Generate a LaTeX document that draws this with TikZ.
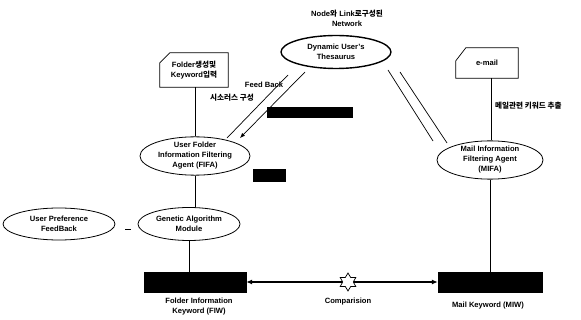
\documentclass[tikz,border=0pt]{standalone}
\usepackage{fontspec}
\setmainfont{Liberation Sans}
\newfontfamily\kr{Noto Sans CJK KR}
\usetikzlibrary{shapes.geometric,arrows.meta,calc}
\begin{document}
\begin{tikzpicture}[x=1pt,y=-1pt,
  font=\fontsize{7.6}{10}\selectfont\bfseries,
  oval/.style={ellipse,draw,line width=0.8pt,inner sep=0pt,align=center},
  docbox/.style={draw=none,inner sep=0pt,align=center},
  bar/.style={fill=black,draw=black,inner sep=0pt},
  lbl/.style={inner sep=0pt,align=center},
  ln/.style={line width=0.7pt},
  arr/.style={line width=0.7pt,-{Latex[length=5pt,width=4pt]}}]
\useasboundingbox (0,0) rectangle (581,320);

% top label
\node[lbl] (toplbl) at (347,18) {Node{\kr 와} Link{\kr 로구성된}\\Network};

% thesaurus
\node[oval,line width=1.4pt,minimum width=110,minimum height=33] (thes) at (336,52) {Dynamic User's\\Thesaurus};

% folder document box
\node[docbox,minimum width=68,minimum height=34] (fbox) at (194,70) {Folder{\kr 생성및}\\Keyword{\kr 입력}};
\draw[ln] ($(fbox.north west)+(0,10)$) -- ($(fbox.north west)+(10,0)$) -- (fbox.north east) -- (fbox.south east) -- (fbox.south west) -- cycle;

% e-mail document box
\node[docbox,minimum width=62,minimum height=30] (mbox) at (487,63) {e-mail};
\draw[ln] ($(mbox.north west)+(0,13)$) -- ($(mbox.north west)+(10,0)$) -- (mbox.north east) -- (mbox.south east) -- (mbox.south west) -- cycle;

% agents
\node[oval,minimum width=110,minimum height=36] (fifa) at (195,156) {User Folder\\Information Filtering\\Agent (FIFA)};
\node[oval,minimum width=106,minimum height=36] (mifa) at (490,160) {Mail Information\\Filtering Agent\\(MIFA)};
\node[oval,minimum width=102,minimum height=33] (ga) at (189,224) {Genetic Algorithm\\Module};
\node[oval,minimum width=112,minimum height=32] (upf) at (59,224) {User Preference\\FeedBack};

% black bars
\node[bar,minimum width=85,minimum height=10] (midbar) at (309.5,112) {};
\node[bar,minimum width=32,minimum height=12] (smallbar) at (269,175) {};
\node[bar,minimum width=102,minimum height=20] (fiw) at (195,282) {};
\node[bar,minimum width=104,minimum height=20] (miw) at (490,282) {};

\node[lbl] (fiwlbl) at (199,306.5) {Folder Information\\Keyword (FIW)};
\node[lbl] (miwlbl) at (488,306) {Mail Keyword (MIW)};

% comparison
\node[star,star points=6,star point ratio=1.7,draw,fill=white,line width=0.7pt,minimum size=18pt,inner sep=0pt] (cmp) at (348,282) {};
\node[lbl] (cmplbl) at (348,302) {Comparision};
\draw[line width=1.3pt,-{Latex[length=6pt,width=5pt]}] (cmp) -- (fiw.east);
\draw[line width=1.3pt,-{Latex[length=6pt,width=5pt]}] (cmp) -- (miw.west);

% vertical connectors
\draw[ln] (fbox.south) ++(1,0) coordinate (fb) -- (fb |- fifa.north);
\draw[ln] (fifa.south) -- (ga.north -| fifa.south);
\draw[ln] (ga.south) -- (ga.south |- fiw.north);
\draw[ln] (mbox.south) ++(4,0) coordinate (mb) -- (mb |- mifa.north);
\draw[ln] (mifa.south) -- (mifa.south |- miw.north);
\node[lbl,anchor=west] (mlbl) at (495,106) {\kr 메일관련 키워드 추출};

% dash between UPF and GA
\coordinate (d1) at (125,229);
\coordinate (d2) at (131,229);
\draw[ln] (d1) -- (d2);

% thesaurus <-> FIFA
\coordinate (a1) at (288,75);
\coordinate (a2) at (227,138);
\coordinate (b1) at (305,72);
\coordinate (b2) at (240,138);
\draw[ln] (a1) -- (a2);
\draw[arr] (b1) -- (b2);
\node[lbl] (fb1) at (264,85) {Feed Back};
\node[lbl] (fb2) at (232,98) {\kr 시소러스 구성};

% thesaurus -- MIFA
\coordinate (c1) at (388,70);
\coordinate (c2) at (433,141);
\coordinate (e1) at (400,72);
\coordinate (e2) at (447,143);
\draw[ln] (c1) -- (c2);
\draw[ln] (e1) -- (e2);
\end{tikzpicture}
\end{document}
